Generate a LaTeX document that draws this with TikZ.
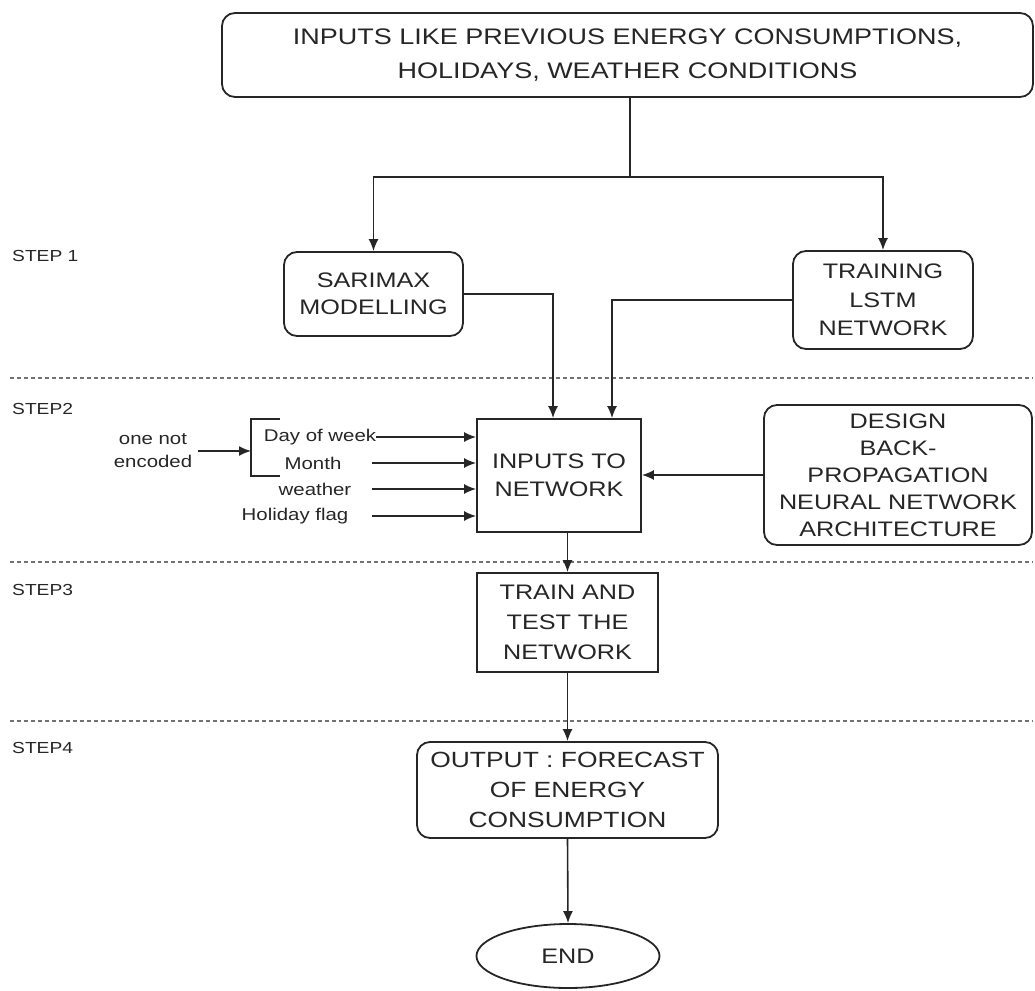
\documentclass[tikz,border=0pt]{standalone}
\usepackage{fontspec}
\setmainfont{Liberation Sans}[FakeStretch=1.2]
\usetikzlibrary{arrows.meta,shapes.geometric}
\definecolor{ink}{HTML}{262626}
\begin{document}
\begin{tikzpicture}[x=1pt,y=-1pt,
  every node/.style={text=ink},
  box/.style={draw=ink,line width=1.8pt,align=center,inner sep=0pt,
    font=\fontsize{21}{27}\selectfont},
  rbox/.style={box,rounded corners=13pt},
  link/.style={draw=ink,line width=1.6pt},
  arr/.style={link,-{Latex[length=12pt,width=10pt]}},
  sep/.style={draw=ink!65,line width=1.5pt,dash pattern=on 4pt off 3pt},
  steplabel/.style={anchor=west,inner sep=0pt,font=\fontsize{16}{18}\selectfont},
  feature/.style={inner sep=0pt,font=\fontsize{17}{23}\selectfont}
]
\useasboundingbox (0,0) rectangle (1035,990);

% phase separators
\draw[sep] (10,378) -- (1033,378);
\draw[sep] (10,562) -- (1033,562);
\draw[sep] (10,721) -- (1033,721);

% phase labels
\node[steplabel] (s1) at (12,256) {STEP 1};
\node[steplabel] (s2) at (12,409) {STEP2};
\node[steplabel] (s3) at (12,590) {STEP3};
\node[steplabel] (s4) at (12,748) {STEP4};

% main boxes
\node[rbox,minimum width=811pt,minimum height=84pt,
  font=\fontsize{22.5}{34}\selectfont] (src) at (627.5,55)
  {INPUTS LIKE PREVIOUS ENERGY CONSUMPTIONS,\\HOLIDAYS, WEATHER CONDITIONS};
\node[rbox,minimum width=179pt,minimum height=84pt] (sar) at (373.5,294)
  {SARIMAX\\MODELLING};
\node[rbox,minimum width=180pt,minimum height=98pt,
  font=\fontsize{21}{28.5}\selectfont] (lstm) at (883,300)
  {TRAINING\\LSTM\\NETWORK};
\node[box,minimum width=164pt,minimum height=113pt,
  font=\fontsize{21}{28}\selectfont] (inp) at (559,475.5)
  {INPUTS TO\\NETWORK};
\node[rbox,minimum width=268pt,minimum height=140pt] (bp) at (898,475)
  {DESIGN\\BACK-\\PROPAGATION\\NEURAL NETWORK\\ARCHITECTURE};
\node[box,minimum width=181pt,minimum height=99pt,
  font=\fontsize{21}{30}\selectfont] (trn) at (567.5,622.5)
  {TRAIN AND\\TEST THE\\NETWORK};
\node[rbox,minimum width=301pt,minimum height=96pt,
  font=\fontsize{22}{30}\selectfont] (out) at (567.5,790)
  {OUTPUT : FORECAST\\OF ENERGY\\CONSUMPTION};
\node[draw=ink,ellipse,line width=1.8pt,minimum width=183pt,minimum height=64pt,
  inner sep=0pt,font=\fontsize{21}{24}\selectfont] (end) at (568,956) {END};

% split of the source inputs
\coordinate (split) at (630,177);
\draw[link] (src.south -| split) -- (split);
\draw[arr] (split) -| (sar.north);
\draw[arr] (split) -| (lstm.north);

% step 1 results into the network inputs
\draw[arr] (sar.east) -| ([xshift=-6pt]inp.north);
\draw[arr] (lstm.west) -| ([xshift=53pt]inp.north);
\draw[arr] (bp.west) -- (bp.west -| inp.east);

% encoded calendar features
\node[feature,align=center] (enc) at (153,451) {one not\\encoded};
\coordinate (brk) at (251,451);
\draw[link] (280,419) -- (251,419) -- (251,476) -- (280,476);
\draw[arr] ([xshift=6pt]enc.east) -- (brk);

\node[feature] (dow) at (320,437) {Day of week};
\node[feature] (mon) at (313,463) {Month};
\node[feature] (wea) at (315,489) {weather};
\node[feature] (hol) at (295,516) {Holiday flag};
\coordinate (fx) at (372,0);
\draw[arr] (dow.east) -- (dow.east -| inp.west);
\draw[arr] (mon.east -| fx) -- (mon.east -| inp.west);
\draw[arr] (wea.east -| fx) -- (wea.east -| inp.west);
\draw[arr] (hol.east -| fx) -- (hol.east -| inp.west);

% training, output, end
\draw[arr] (inp.south -| trn.north) -- (trn.north);
\draw[arr] (trn.south) -- (out.north);
\draw[arr] (out.south) -- (end.north);
\end{tikzpicture}
\end{document}
